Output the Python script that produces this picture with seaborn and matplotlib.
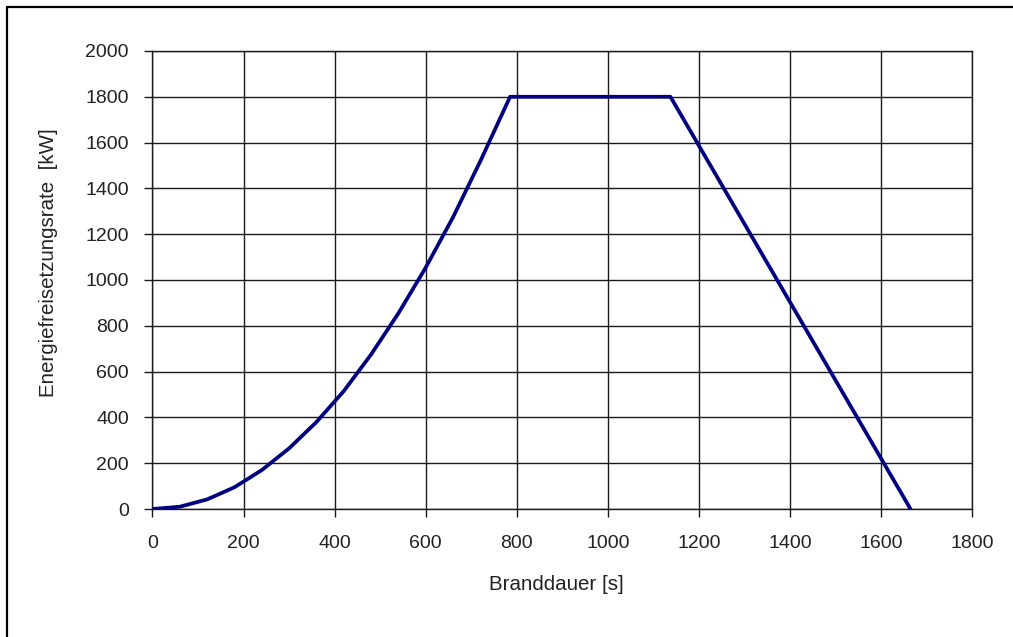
import matplotlib
matplotlib.use("Agg")
import matplotlib.pyplot as plt
import seaborn as sns
import pandas as pd
from matplotlib.lines import Line2D

zeit_s = [0, 60, 120, 180, 240, 300, 360, 420, 480, 540, 600, 660, 720, 785, 1137, 1664]
leistung_kw = [0, 10, 42, 95, 170, 265, 380, 515, 675, 855, 1055, 1275, 1520, 1800, 1800, 0]
x_ticks = [0, 200, 400, 600, 800, 1000, 1200, 1400, 1600, 1800]
y_ticks = [0, 200, 400, 600, 800, 1000, 1200, 1400, 1600, 1800, 2000]

df = pd.DataFrame({"Branddauer": zeit_s, "Leistung": leistung_kw})

sns.set_style("ticks")
plt.rcParams["font.family"] = ["Liberation Sans", "DejaVu Sans"]

fig = plt.figure(figsize=(10.13, 6.37), dpi=100)
ax = fig.add_axes([0.1505, 0.2009, 0.8095, 0.7191])

sns.lineplot(data=df, x="Branddauer", y="Leistung", ax=ax, sort=False,
             estimator=None, color="#000080", linewidth=2.7, zorder=3)

ax.set_xlim(0, 1800)
ax.set_ylim(0, 2000)
ax.set_xticks(x_ticks)
ax.set_yticks(y_ticks)
ax.grid(True, color="#1a1a1a", linewidth=1.0)
ax.set_axisbelow(True)
for s in ax.spines.values():
    s.set_visible(True)
    s.set_color("#1a1a1a")
    s.set_linewidth(1.0)
ax.tick_params(axis="both", direction="out", length=6, width=1.0,
               color="#1a1a1a", labelsize=14, labelcolor="#222222")
ax.tick_params(axis="x", pad=13)
ax.tick_params(axis="y", pad=11)

ax.set_xlabel("Branddauer [s]", fontsize=14.8, color="#222222", va="center")
ax.xaxis.set_label_coords(0.493, -0.164)
ax.set_ylabel("Energiefreisetzungsrate  [kW]", fontsize=14.8, color="#222222", va="center")
ax.yaxis.set_label_coords(-0.127, 0.537)

# outer chart frame (top and left edges visible)
fig.add_artist(Line2D([7 / 1013, 1], [1 - 7 / 637, 1 - 7 / 637],
                      transform=fig.transFigure, color="black", linewidth=1.6))
fig.add_artist(Line2D([7 / 1013, 7 / 1013], [0, 1 - 7 / 637],
                      transform=fig.transFigure, color="black", linewidth=1.6))

fig.savefig("out.png", dpi=100)
plt.close(fig)
